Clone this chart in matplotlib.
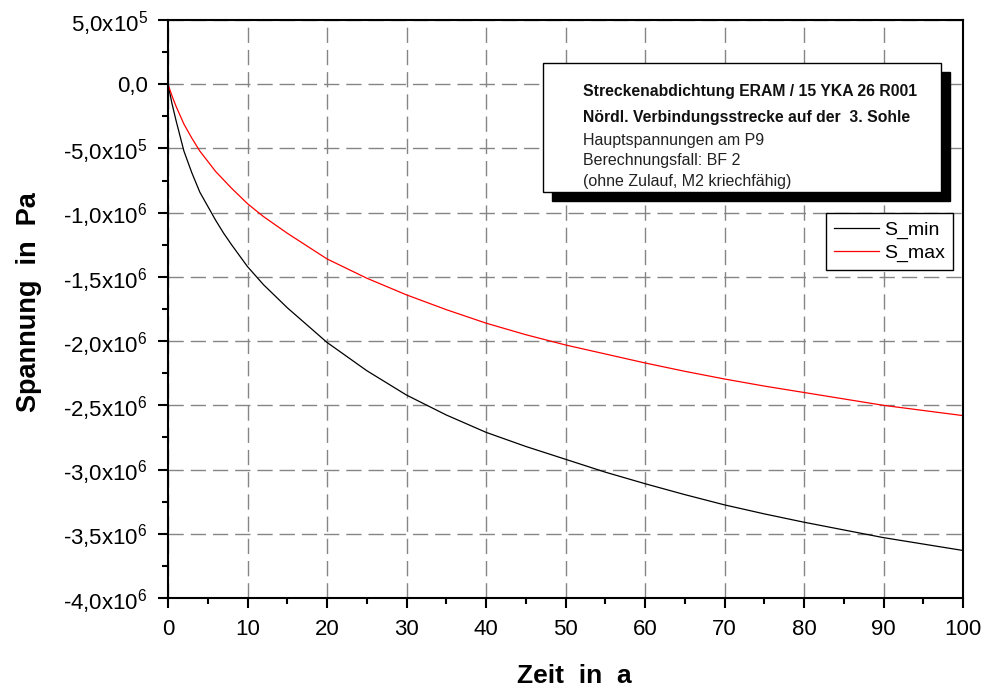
import matplotlib
matplotlib.use("Agg")
import matplotlib.pyplot as plt
from matplotlib.patches import Rectangle

plt.rcParams['font.family'] = ['Liberation Sans', 'DejaVu Sans']
plt.rcParams['mathtext.fontset'] = 'custom'
plt.rcParams['mathtext.rm'] = 'Liberation Sans'
plt.rcParams['mathtext.it'] = 'Liberation Sans'

# data
zeit = [0, 0.5, 1, 2, 3, 4, 5, 6, 7, 8, 10, 12, 15, 20, 25, 30, 35, 40, 45,
        50, 55, 60, 65, 70, 75, 80, 85, 90, 95, 100]
s_min = [0, -0.15e6, -0.28e6, -0.52e6, -0.69e6, -0.84e6, -0.95e6, -1.06e6,
         -1.16e6, -1.25e6, -1.42e6, -1.56e6, -1.74e6, -2.01e6, -2.23e6,
         -2.42e6, -2.575e6, -2.71e6, -2.82e6, -2.92e6, -3.02e6, -3.11e6,
         -3.195e6, -3.275e6, -3.345e6, -3.41e6, -3.47e6, -3.53e6, -3.58e6,
         -3.63e6]
s_max = [0, -0.09e6, -0.17e6, -0.31e6, -0.42e6, -0.52e6, -0.60e6, -0.68e6,
         -0.745e6, -0.81e6, -0.93e6, -1.03e6, -1.16e6, -1.36e6, -1.51e6,
         -1.64e6, -1.755e6, -1.86e6, -1.95e6, -2.03e6, -2.10e6, -2.17e6,
         -2.235e6, -2.295e6, -2.35e6, -2.40e6, -2.45e6, -2.50e6, -2.54e6,
         -2.58e6]

x_ticks = [0, 10, 20, 30, 40, 50, 60, 70, 80, 90, 100]
y_ticks = [5e5, 0, -5e5, -1e6, -1.5e6, -2e6, -2.5e6, -3e6, -3.5e6, -4e6]
y_labels = ['5,0x10$^{5}$', '0,0', '-5,0x10$^{5}$', '-1,0x10$^{6}$',
            '-1,5x10$^{6}$', '-2,0x10$^{6}$', '-2,5x10$^{6}$',
            '-3,0x10$^{6}$', '-3,5x10$^{6}$', '-4,0x10$^{6}$']

info_bold = ['Streckenabdichtung ERAM / 15 YKA 26 R001',
             'Nördl. Verbindungsstrecke auf der  3. Sohle']
info_norm = ['Hauptspannungen am P9',
             'Berechnungsfall: BF 2',
             '(ohne Zulauf, M2 kriechfähig)']

W, H = 986, 694
fig = plt.figure(figsize=(W / 100, H / 100), dpi=100)
ax = fig.add_axes([168 / W, 1 - 598 / H, (963 - 168) / W, (598 - 20) / H])

ax.plot(zeit, s_min, color='black', lw=0.9, label='S_min')
ax.plot(zeit, s_max, color='#ff0000', lw=0.9, label='S_max')

ax.set_xlim(0, 100)
ax.set_ylim(-4e6, 5e5)
ax.set_xticks(x_ticks)
ax.set_xticks(range(5, 100, 10), minor=True)
ax.set_yticks(y_ticks)
ax.set_yticklabels(y_labels)
ax.set_yticks([2.5e5 - 5e5 * i for i in range(9)], minor=True)

ax.tick_params(which='both', direction='out', width=1.5, labelsize=16)
ax.tick_params(which='major', length=7.5)
ax.tick_params(which='minor', length=4.5)
ax.tick_params(axis='y', pad=7)
ax.tick_params(axis='x', pad=7.5)
for sp in ax.spines.values():
    sp.set_linewidth(1.5)

ax.grid(True, which='major', color='#858585', linestyle=(0, (11, 5)), linewidth=1)

ax.set_xlabel('Zeit  in  a', fontsize=19, fontweight='bold')
ax.xaxis.set_label_coords(0.511, -0.115)
ax.set_ylabel('Spannung  in  Pa', fontsize=19.5, fontweight='bold')
ax.yaxis.set_label_coords(-0.158, 0.512)

# info box with drop shadow
def to_ax(px, py):
    return ((px - 168) / 795, (598 - py) / 578)

bx0, by0 = to_ax(543, 192)
bx1, by1 = to_ax(941, 63)
sx0, sy0 = to_ax(552, 201)
ax.add_patch(Rectangle((sx0, sy0), bx1 - bx0, by1 - by0, transform=ax.transAxes,
                       facecolor='black', edgecolor='black', zorder=5, clip_on=False))
ax.add_patch(Rectangle((bx0, by0), bx1 - bx0, by1 - by0, transform=ax.transAxes,
                       facecolor='white', edgecolor='black', lw=1, zorder=6, clip_on=False))

tx, _ = to_ax(583, 0)
ys = [91.7, 117.7, 140, 161, 181.7]
for i, line in enumerate(info_bold + info_norm):
    bold = i < len(info_bold)
    ax.text(tx, to_ax(0, ys[i])[1], line, transform=ax.transAxes,
            fontsize=11.3 if bold else 11.5, fontweight='bold' if bold else 'normal',
            color='#111111' if bold else '#222222', va='center', ha='left', zorder=7)

lx, ly = to_ax(826, 213)
leg = ax.legend(loc='upper left', bbox_to_anchor=(lx, ly), borderaxespad=0,
                fontsize=14, handlelength=2.3, handletextpad=0.3, labelspacing=0.3,
                borderpad=0.4, fancybox=False, framealpha=1, edgecolor='black')
leg.get_frame().set_linewidth(1)
leg.set_zorder(8)

fig.savefig('out.png', dpi=100)
